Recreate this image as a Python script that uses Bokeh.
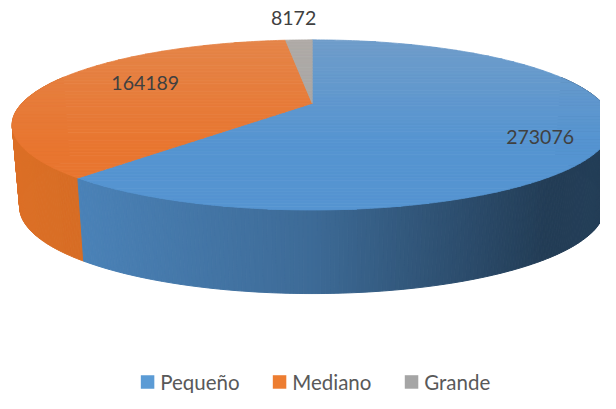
import numpy as np
from bokeh.plotting import figure
from bokeh.models import Range1d
from bokeh.core.properties import value
from bokeh.embed import file_html
from bokeh.resources import INLINE

# ---------------- data ----------------
categories = ["Pequeño", "Mediano", "Grande"]
values = [273076, 164189, 8172]
labels = ["273076", "164189", "8172"]

# ---------------- styles ----------------
legend_colors = ["#5b9bd5", "#ed7d31", "#a5a5a5"]
top_rgb = [(85, 148, 209), (232, 118, 48), (165, 165, 165)]
side_rgb = [(85, 148, 209), (245, 124, 42), (165, 165, 165)]
light_rgb = (215, 190, 170)

# ---------------- layout (reference pixel space 616 x 409) ----------------
W, H = 600, 393
REF_W, REF_H = 616, 409
CX, CY = 320.0, 107.0      # pie apex
A, B = 297.9, 82.8         # plan radii
P = 0.254                  # perspective factor
DEPTH, Q, S = 85.0, 0.023, 0.975
LABEL_R = [0.78, 0.63, 1.55]
LABEL_DY = [11, -7, 3]
FONT = "19.5px"
LEGEND_FONT = "20.5px"

p = figure(width=W, height=H, x_range=Range1d(0, REF_W), y_range=Range1d(REF_H, 0),
           output_backend="svg", toolbar_location=None, min_border=0,
           x_axis_location=None, y_axis_location=None)
p.grid.visible = False
p.outline_line_color = None
p.background_fill_color = "white"


def proj(theta, r=1.0):
    u, v = r * np.sin(theta), r * np.cos(theta)
    d = 1 + P * v
    return CX + A * u / d, CY - B * v / d


def proj_bottom(theta):
    x, y = proj(theta)
    return CX + S * (x - CX), y + DEPTH / (1 + Q * np.cos(theta))


def hexc(rgb):
    return "#%02x%02x%02x" % tuple(int(max(0, min(255, round(c)))) for c in rgb)


total = float(sum(values))
fr = np.array(values) / total
ends = np.cumsum(fr) * 2 * np.pi
starts = ends - fr * 2 * np.pi

# ---------------- side walls ----------------
fx_keys = [12, 86, 320, 450, 560, 628]
fx_vals = [0.90, 0.875, 0.72, 0.55, 0.41, 0.42]
walls = []
for i in range(len(values)):
    n = max(2, int(np.degrees(ends[i] - starts[i]) * 1.5))
    th = np.linspace(starts[i], ends[i], n + 1)
    for a0, a1 in zip(th[:-1], th[1:]):
        am = 0.5 * (a0 + a1)
        if np.cos(am) > 0.35:
            continue
        x0, y0 = proj(a0)
        x1, y1 = proj(a1)
        bx0, by0 = proj_bottom(a0)
        bx1, by1 = proj_bottom(a1)
        xm = 0.25 * (x0 + x1 + bx0 + bx1)
        f = np.interp(xm, fx_keys, fx_vals)
        col = hexc([c * f for c in side_rgb[i]])
        walls.append((np.cos(am), [x0, x1, bx1, bx0], [y0, y1, by1, by0], col))
walls.sort(key=lambda w: -w[0])
p.patches([w[1] for w in walls], [w[2] for w in walls],
          fill_color=[w[3] for w in walls], line_color=[w[3] for w in walls], line_width=1.0)


# ---------------- top face (vertical light gradient via bands) ----------------
def clip(poly, yc, keep_below):
    out = []
    m = len(poly)
    for k in range(m):
        cx_, cy_ = poly[k]
        px_, py_ = poly[k - 1]
        cin = (cy_ >= yc) if keep_below else (cy_ <= yc)
        pin = (py_ >= yc) if keep_below else (py_ <= yc)
        if cin:
            if not pin:
                t = (yc - py_) / (cy_ - py_)
                out.append((px_ + t * (cx_ - px_), yc))
            out.append((cx_, cy_))
        elif pin:
            t = (yc - py_) / (cy_ - py_)
            out.append((px_ + t * (cx_ - px_), yc))
    return out


bxs, bys, bcols = [], [], []
band = 3.0
for i in range(len(values)):
    n = max(3, int(np.degrees(ends[i] - starts[i]) * 1.5))
    th = np.linspace(starts[i], ends[i], n + 1)
    poly = [(CX, CY)] + [proj(t) for t in th]
    ys = [q[1] for q in poly]
    yb = np.floor(min(ys))
    while yb < max(ys):
        piece = clip(clip(poly, yb, True), yb + band, False)
        if len(piece) >= 3:
            ym = yb + band / 2
            w = 0.2 * max(0.0, (150 - ym) / 110.0)
            col = hexc([c + w * (l - c) for c, l in zip(top_rgb[i], light_rgb)])
            bxs.append([q[0] for q in piece])
            bys.append([q[1] for q in piece])
            bcols.append(col)
        yb += band
p.patches(bxs, bys, fill_color=bcols, line_color=bcols, line_width=0.8)

# ---------------- data labels ----------------
mids = 0.5 * (starts + ends)
lx, ly = [], []
for i, m in enumerate(mids):
    x, y = proj(m, LABEL_R[i])
    lx.append(x)
    ly.append(y + LABEL_DY[i])
p.text(lx, ly, text=labels, text_align="center", text_baseline="middle",
       text_font=value("Lato"), text_font_size=FONT, text_color="#404040")

# ---------------- legend ----------------
idx = np.arange(len(categories))
pitch = 135.5
p.scatter(151 + pitch * idx, [397] * len(idx), marker="square", size=13.5,
          fill_color=legend_colors, line_color=None)
p.text(164 + pitch * idx, [397] * len(idx), text=categories, text_align="left",
       text_baseline="middle", text_font=value("Lato"), text_font_size=LEGEND_FONT,
       text_color="#595959")

open("out.html", "w").write(file_html(p, INLINE))
